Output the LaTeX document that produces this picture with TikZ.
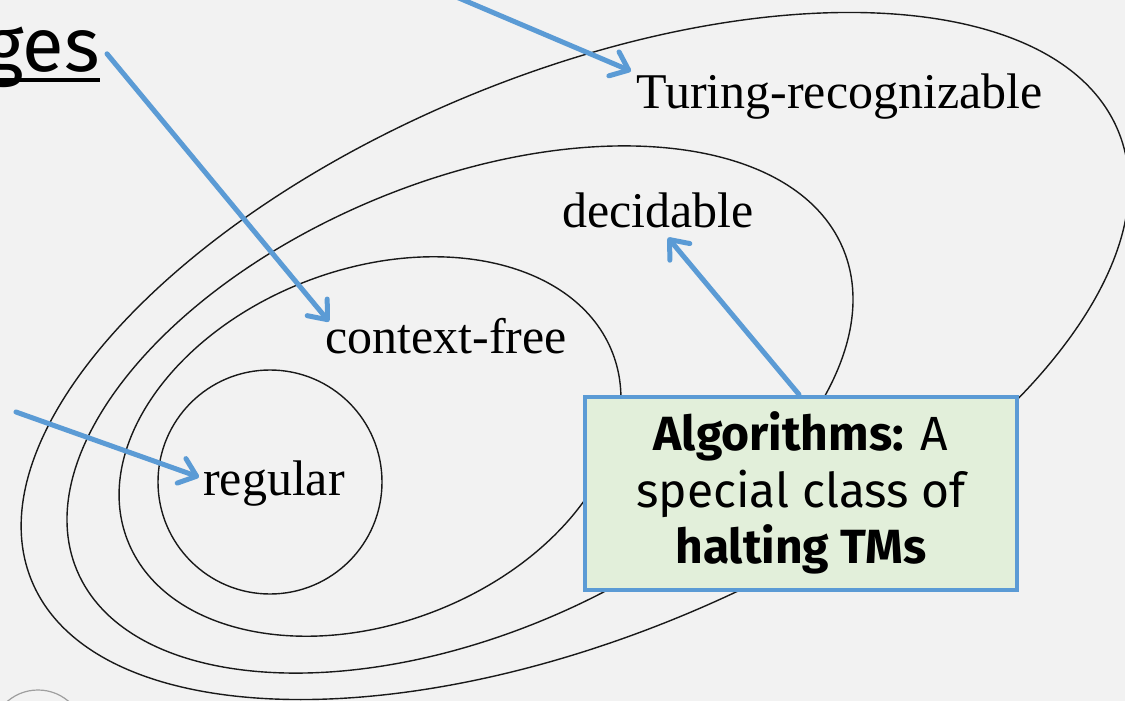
\documentclass[tikz,border=0pt]{standalone}
\usepackage{fontspec}
\setmainfont{Liberation Serif}
\newfontfamily\fira{Fira Sans}
\usetikzlibrary{arrows.meta}
\definecolor{bgc}{HTML}{F2F2F2}
\definecolor{arrowblue}{HTML}{5B9BD5}
\definecolor{boxfill}{HTML}{E2EFDA}
\begin{document}
\begin{tikzpicture}[x=1pt,y=-1pt,
  setcurve/.style={line width=1.4pt, black!90},
  lbl/.style={font=\fontsize{50}{60}\selectfont, inner sep=0pt, anchor=base west},
  callout/.style={-{Straight Barb[length=16pt,width=26pt,round]}, arrowblue, line width=5pt, line cap=round},
  notebox/.style={draw=arrowblue, fill=boxfill, line width=4pt, minimum width=432pt, minimum height=193pt, inner sep=0pt, align=center, font=\fira\fontsize{48}{56.5}\selectfont},
]
\useasboundingbox[fill=bgc] (0,0) rectangle (1125,701);

% outer: Turing-recognizable
\draw[setcurve, rotate around={22.5:(575,356)}] (575,356) ellipse [x radius=588, y radius=281];
% decidable
\draw[setcurve, rotate around={22.8:(460,409.5)}] (460,409.5) ellipse [x radius=415.5, y radius=226.4];
% context-free
\draw[setcurve, rotate around={21:(370,446.5)}] (370,446.5) ellipse [x radius=260, y radius=177];
% regular
\draw[setcurve] (270,482) circle[radius=112];

% partial badge at bottom left
\draw[gray!75, line width=1.2pt] (38,737) circle[radius=47];

% labels
\node[lbl] (tr) at (636,108) {Turing-recognizable};
\node[lbl] (dc) at (562,227) {decidable};
\node[lbl] (cf) at (325,353) {context-free};
\node[lbl] (rg) at (203,495) {regular};

% heading fragment
\node[font=\fira\fontsize{76}{90}\selectfont, inner sep=0pt, anchor=base east] (ges) at (100,72) {ges};
\draw[line width=3.5pt] (-20,80) -- (ges.base east |- 0,80);

% box
\node[notebox] (box) at (801,493) {\textbf{Algorithms:} A\\special class of\\\textbf{halting TMs}};

% arrows
\coordinate (s1) at (440,-10);
\coordinate (s3) at (16,412);
\draw[callout] (s1) -- ([shift={(-5,-2)}]tr.north west);
\draw[callout] ([shift={(7,-4)}]ges.east) -- ([shift={(4,4)}]cf.north west);
\draw[callout] (s3) -- ([shift={(-4,-6)}]rg.west);
\draw[callout] ([xshift=-2pt]box.north) -- ([shift={(10,10)}]dc.south);
\end{tikzpicture}
\end{document}
